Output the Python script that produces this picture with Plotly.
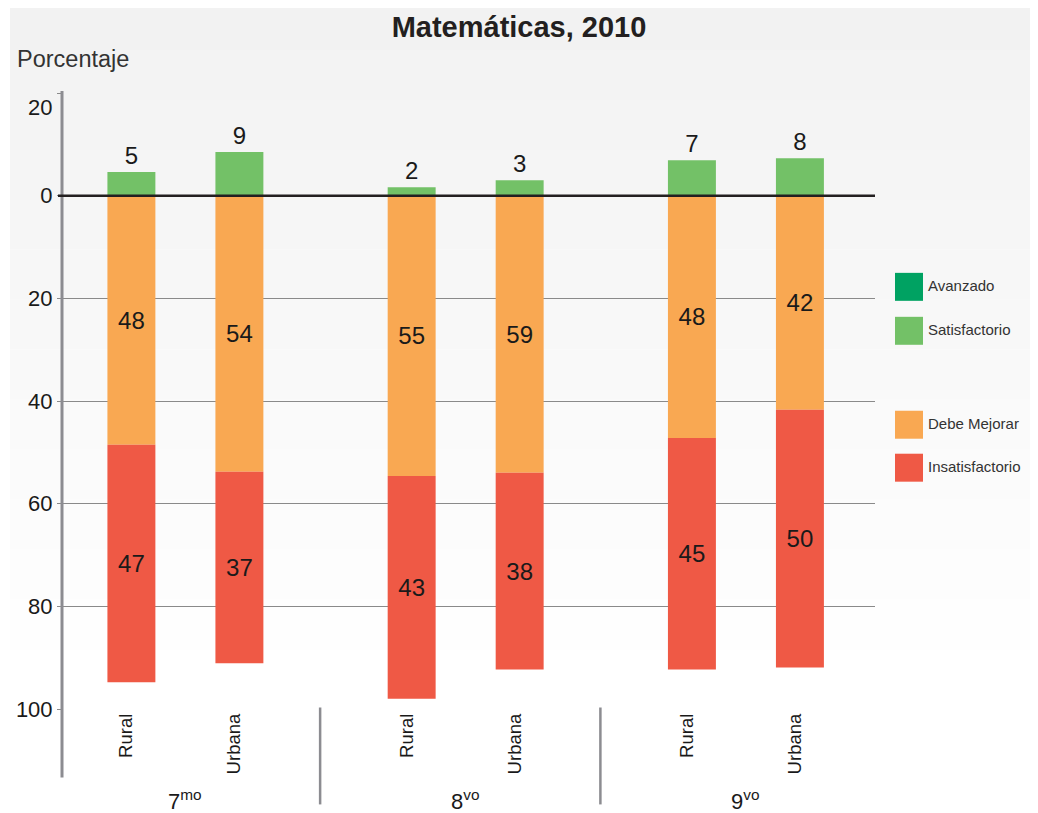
import plotly.graph_objects as go

# ---- data ----
grades = ["7<sup>mo</sup>", "8<sup>vo</sup>", "9<sup>vo</sup>"]
zones = ["Rural", "Urbana"]
avanzado = [0, 0, 0, 0, 0, 0]
satisfactorio = [4.6, 8.5, 1.65, 3.0, 6.9, 7.3]
debe_mejorar = [48.5, 53.8, 54.6, 54.0, 47.2, 41.7]
insatisfactorio = [46.3, 37.3, 43.4, 38.3, 45.1, 50.2]
satisfactorio_txt = ["5", "9", "2", "3", "7", "8"]
debe_mejorar_txt = ["48", "54", "55", "59", "48", "42"]
insatisfactorio_txt = ["47", "37", "43", "38", "45", "50"]
ytick_vals = [20, 0, -20, -40, -60, -80, -100]
ytick_text = ["20", "0", "20", "40", "60", "80", "100"]

colors = {"Avanzado": "#00a262", "Satisfactorio": "#73c167",
          "Debe Mejorar": "#f9a852", "Insatisfactorio": "#ef5945"}

FONT = "Liberation Sans, Arial, sans-serif"
OFF = 8  # page offset of the figure inside the browser window
RW, RH = 1038, 813          # reference picture size
W, H = RW - OFF, RH - OFF   # figure size
L, R, T, B = 62, 875, 93, 709.5  # plot area in reference px

GROUP_GAP = 2.595
xs, xlabels = [], []
for g in range(len(grades)):
    for s, z in enumerate(zones):
        xs.append(g * GROUP_GAP + s)
        xlabels.append(z)

def px_x(px):
    return (px - L) / (R - L)

def px_y(py):
    return (B - py) / (B - T)

LABEL_FONT = dict(size=24, color="#1a1a1a", family=FONT)
TICK_FONT = dict(size=22, color="#1a1a1a", family=FONT)

fig = go.Figure()
bw = 0.444
fig.add_bar(x=xs, y=avanzado, name="Avanzado", width=bw,
            marker=dict(color=colors["Avanzado"], line=dict(width=0)))
fig.add_bar(x=xs, y=satisfactorio, name="Satisfactorio", width=bw,
            marker=dict(color=colors["Satisfactorio"], line=dict(width=0)),
            text=satisfactorio_txt, textposition="outside", cliponaxis=False,
            textfont=LABEL_FONT)
fig.add_bar(x=xs, y=[-v for v in debe_mejorar], name="Debe Mejorar", width=bw,
            marker=dict(color=colors["Debe Mejorar"], line=dict(width=0)),
            text=debe_mejorar_txt, textposition="inside", insidetextanchor="middle",
            constraintext="none", textfont=LABEL_FONT)
fig.add_bar(x=xs, y=[-v for v in insatisfactorio], name="Insatisfactorio", width=bw,
            marker=dict(color=colors["Insatisfactorio"], line=dict(width=0)),
            text=insatisfactorio_txt, textposition="inside", insidetextanchor="middle",
            constraintext="none", textfont=LABEL_FONT)

shapes = []
# background gradient bands
nb = 13
for i in range(nb):
    y0 = i * 50
    y1 = (i + 1) * 50
    c = 242 + i
    shapes.append(dict(type="rect", xref="paper", yref="paper",
                       x0=px_x(10), x1=px_x(RW + 5), y0=px_y(y1), y1=px_y(y0 - 10 if i == 0 else y0),
                       fillcolor=f"rgb({c},{c},{c})", line=dict(width=0), layer="below"))
# left axis line
shapes.append(dict(type="line", xref="paper", yref="paper", x0=0, x1=0,
                   y0=px_y(778), y1=px_y(91), line=dict(color="#8c8c91", width=3)))
# group separators
for g in range(len(grades) - 1):
    xm = (g * GROUP_GAP + 1 + (g + 1) * GROUP_GAP) / 2 - 0.05
    shapes.append(dict(type="line", xref="x", yref="paper", x0=xm, x1=xm,
                       y0=px_y(805), y1=px_y(708), line=dict(color="#8c8c91", width=2.5)))
# zero line
shapes.append(dict(type="line", xref="paper", yref="y", x0=px_x(58), x1=1, y0=0, y1=0,
                   line=dict(color="#231f20", width=2.5)))

annotations = []
for g, lab in enumerate(grades):
    annotations.append(dict(x=g * GROUP_GAP + 0.5, xref="x", y=px_y(817), yref="paper",
                            text=lab, showarrow=False, yanchor="bottom",
                            font=dict(size=22, color="#1a1a1a", family=FONT)))
annotations.append(dict(x=px_x(15), xref="paper", y=px_y(59), yref="paper",
                        text="Porcentaje", showarrow=False, xanchor="left", yanchor="middle",
                        font=dict(size=23.5, color="#333333", family=FONT)))
# top tick label sits a little below its gridline in the reference
annotations.append(dict(x=px_x(54), xref="paper", y=px_y(108), yref="paper",
                        text=ytick_text[0], showarrow=False, xanchor="right", yanchor="middle",
                        font=TICK_FONT))

# legend drawn manually
legend_items = [("Avanzado", 287), ("Satisfactorio", 331), ("Debe Mejorar", 425), ("Insatisfactorio", 468)]
for name, cy in legend_items:
    shapes.append(dict(type="rect", xref="paper", yref="paper",
                       x0=px_x(895), x1=px_x(923), y0=px_y(cy + 14), y1=px_y(cy - 14),
                       fillcolor=colors[name], line=dict(width=0)))
    annotations.append(dict(x=px_x(926), xref="paper", y=px_y(cy - 1), yref="paper",
                            text=name, showarrow=False, xanchor="left", yanchor="middle",
                            font=dict(size=15, color="#333333", family=FONT)))

fig.update_layout(
    width=W, height=H,
    barmode="relative",
    showlegend=False,
    paper_bgcolor="white",
    plot_bgcolor="rgba(0,0,0,0)",
    margin=dict(l=L - OFF, r=RW - R, t=T - OFF, b=RH - B, pad=0, autoexpand=False),
    font=dict(family=FONT, color="#1a1a1a"),
    title=dict(text="<b>Matemáticas, 2010</b>", x=(519 - OFF) / W, xref="container", xanchor="center",
               y=1 - (27 - OFF) / H, yref="container", yanchor="middle",
               font=dict(size=29, color="#231f20", family=FONT)),
    xaxis=dict(range=[(L - 131.4) / 108, (R - 131.4) / 108], tickvals=xs, ticktext=xlabels,
               tickangle=-90, showgrid=False, zeroline=False, showline=False, ticks="",
               ticklabelshift=-5,
               automargin=False, tickfont=dict(size=18.5, color="#1a1a1a", family=FONT)),
    yaxis=dict(range=[-100, 20], tickvals=ytick_vals, ticktext=[""] + ytick_text[1:],
               showgrid=True, gridcolor="#8a8a8a", gridwidth=1.3, zeroline=False,
               showline=False, ticks="outside", ticklen=4, tickcolor="#8a8a8a",
               automargin=False, tickfont=TICK_FONT),
    shapes=shapes,
    annotations=annotations,
)

fig.write_html("out.html")
